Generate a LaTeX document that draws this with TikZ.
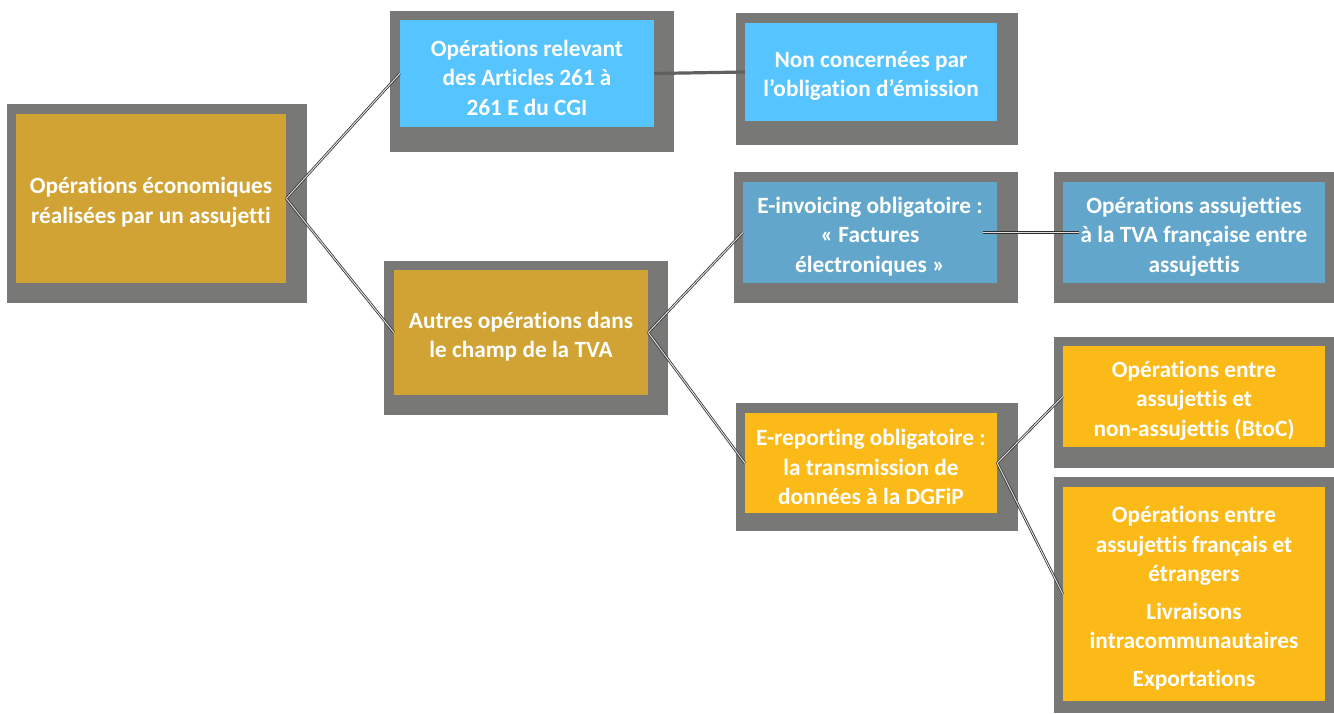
\documentclass[tikz,border=0pt]{standalone}
\usepackage{fontspec}
\setmainfont{Carlito}[Ligatures=NoCommon]
\definecolor{frame}{HTML}{787876}
\definecolor{gold}{HTML}{D1A334}
\definecolor{skyb}{HTML}{55C4FF}
\definecolor{steel}{HTML}{62A7CB}
\definecolor{orng}{HTML}{FBBA17}
\definecolor{linec}{HTML}{2E2E2E}
\begin{document}
\begin{tikzpicture}[x=1pt,y=-1pt,
  box/.style={fill=#1, inner sep=0pt},
  txt/.style={text=white, font=\fontsize{23.3}{29.5}\selectfont\bfseries,
    align=center, inner sep=0pt},
  conn/.style={draw=linec, double=white!75!gray, double distance=1pt, line width=0.75pt},
  thick conn/.style={draw=frame!80!black, line width=3.2pt}]
\useasboundingbox (0,0) rectangle (1334,714);
% frames
\fill[frame] (7,104) rectangle (307,303);
\fill[frame] (390,11) rectangle (674,152);
\fill[frame] (736,13) rectangle (1018,145);
\fill[frame] (734,172) rectangle (1018,303);
\fill[frame] (1054,172) rectangle (1334,303);
\fill[frame] (384,261) rectangle (668,415);
\fill[frame] (736,403) rectangle (1018,531);
\fill[frame] (1054,337) rectangle (1334,468);
\fill[frame] (1054,477) rectangle (1334,713);
% boxes
\node[box=gold, minimum width=270pt, minimum height=169pt] (root) at (151,198.5) {};
\node[box=skyb, minimum width=254pt, minimum height=107pt] (art) at (527,73.5) {};
\node[box=skyb, minimum width=252pt, minimum height=98pt] (non) at (871,72) {};
\node[box=gold, minimum width=254pt, minimum height=125pt] (autres) at (521,332.5) {};
\node[box=steel, minimum width=254pt, minimum height=101pt] (einv) at (870,232.5) {};
\node[box=steel, minimum width=262pt, minimum height=101pt] (assuj) at (1194,232.5) {};
\node[box=orng, minimum width=252pt, minimum height=100pt] (erep) at (871,463) {};
\node[box=orng, minimum width=262pt, minimum height=101pt] (btoc) at (1194,396.5) {};
\node[box=orng, minimum width=262pt, minimum height=214pt] (etr) at (1194,594) {};
% texts
\node[txt] (rootT) at ([yshift=-4pt]root.center)
  {Opérations économiques\\réalisées par un assujetti};
\node[txt] (artT) at ([yshift=-4pt]art.center)
  {Opérations relevant\\des Articles 261 à\\261 E du CGI};
\node[txt] (nonT) at ([yshift=-4pt]non.center)
  {Non concernées par\\l’obligation d’émission};
\node[txt] (autresT) at ([yshift=-4pt]autres.center)
  {Autres opérations dans\\le champ de la TVA};
\node[txt] (einvT) at ([yshift=-4pt]einv.center)
  {E-invoicing obligatoire :\\« Factures\\électroniques »};
\node[txt] (assujT) at ([yshift=-4pt]assuj.center)
  {Opérations assujetties\\à la TVA française entre\\assujettis};
\node[txt] (erepT) at ([yshift=-4pt]erep.center)
  {E-reporting obligatoire :\\la transmission de\\données à la DGFiP};
\node[txt] (btocT) at ([yshift=-4pt]btoc.center)
  {Opérations entre\\assujettis et\\non-assujettis (BtoC)};
\node[txt] (etrT) at ([yshift=-4pt]etr.center)
  {Opérations entre\\assujettis français et\\étrangers\\[8pt]Livraisons\\intracommunautaires\\[8pt]Exportations};
% connectors
\draw[conn] (root.east) -- (art.west);
\draw[conn] (root.east) -- (autres.west);
\draw[thick conn] (art.east) -- (non.west);
\draw[conn] (autres.east) -- (einv.west);
\draw[conn] (autres.east) -- (erep.west);
\draw[conn, shorten <=-14pt, shorten >=-16pt] (einv.east) -- (assuj.west);
\draw[conn] (erep.east) -- (btoc.west);
\draw[conn] (erep.east) -- (etr.west);
\end{tikzpicture}
\end{document}
